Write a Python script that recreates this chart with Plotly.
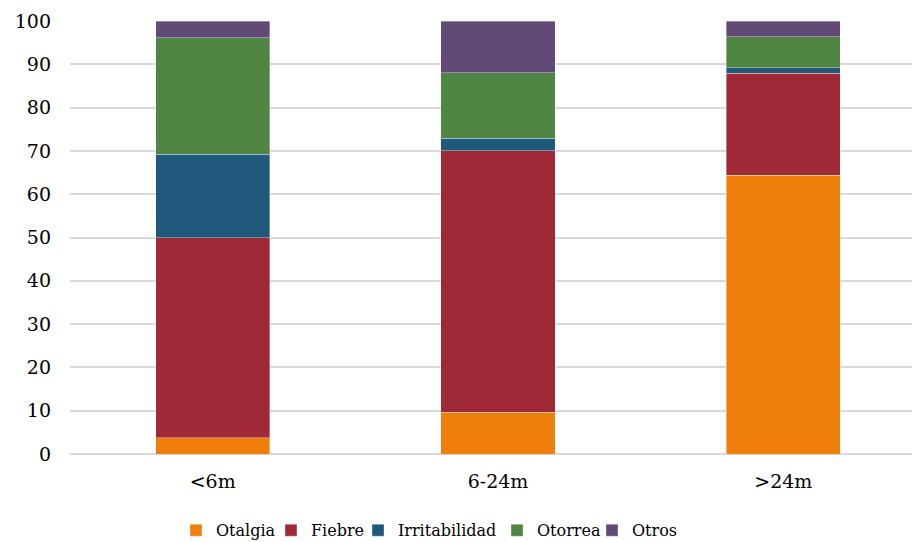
import plotly.graph_objects as go

categories = ["<6m", "6-24m", ">24m"]
otalgia = [3.8, 9.6, 64.4]
fiebre = [46.2, 60.4, 23.5]
irritabilidad = [19.2, 2.9, 1.3]
otorrea = [26.9, 15.1, 7.2]
otros = [3.9, 12.0, 3.6]
y_ticks = [0, 10, 20, 30, 40, 50, 60, 70, 80, 90, 100]

series = [
    ("Otalgia", otalgia, "#EF7F0A"),
    ("Fiebre", fiebre, "#A02937"),
    ("Irritabilidad", irritabilidad, "#1F587B"),
    ("Otorrea", otorrea, "#4F8643"),
    ("Otros", otros, "#614A76"),
]
# legend entry text start (px from left of figure)
legend_text_x = [216, 311, 398, 537, 632]

FONT = "DejaVu Serif"
W, H = 912, 542
ML, MR, MT, MB = 70, 0, 21, 88
PW = W - ML - MR

fig = go.Figure()
layout_legends = {}
for i, (name, vals, col) in enumerate(series):
    lname = "legend" if i == 0 else f"legend{i+1}"
    fig.add_trace(go.Bar(
        x=categories, y=vals, name=name, legend=lname,
        marker=dict(color=col, line=dict(color="rgba(255,255,255,0.45)", width=0.8)),
        width=0.4,
    ))
    layout_legends[lname] = dict(
        orientation="h", x=(legend_text_x[i] - 40 - ML) / PW, xanchor="left",
        y=-0.137, yanchor="top", font=dict(size=16, family=FONT),
        itemwidth=30, bgcolor="rgba(0,0,0,0)",
    )

fig.update_layout(
    barmode="stack",
    width=W, height=H,
    margin=dict(l=ML, r=MR, t=MT, b=MB, autoexpand=False),
    paper_bgcolor="white", plot_bgcolor="white",
    font=dict(family=FONT, size=19, color="#000000"),
    showlegend=True,
    xaxis=dict(range=[-0.5, 2.451], showgrid=False, showline=False, zeroline=False,
               ticks="", tickfont=dict(size=19, family=FONT), ticklabelstandoff=14,
               automargin=False),
    yaxis=dict(range=[0, 100], tickvals=y_ticks, showgrid=True, gridcolor="#D9D9D9",
               gridwidth=1.5, zeroline=True, zerolinecolor="#D9D9D9", zerolinewidth=1.5,
               showline=False, ticks="", tickfont=dict(size=19, family=FONT),
               ticklabelstandoff=18, automargin=False),
    **layout_legends,
)

fig.write_html("out.html")
